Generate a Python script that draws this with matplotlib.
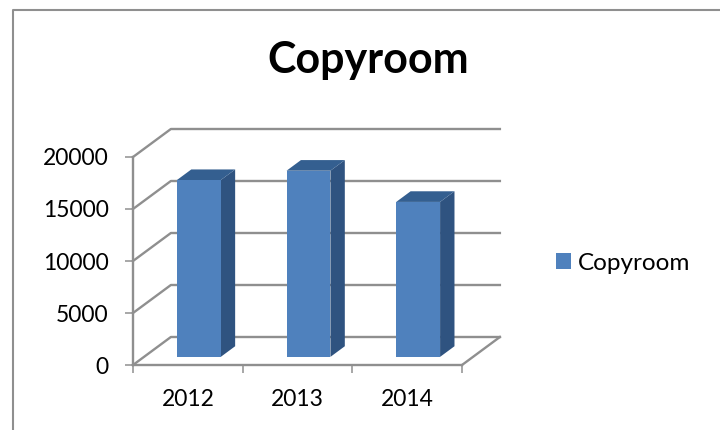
"""Copyroom: 3D-style column chart drawn on a flat axes."""

import matplotlib
matplotlib.use("Agg")
import matplotlib.pyplot as plt

years = ["2012", "2013", "2014"]
copias = [17000, 17900, 14900]
marcas_y = [0, 5000, 10000, 15000, 20000]

GRIS = "#8f8f8f"
FRENTE = "#4f81bd"
LADO = "#2f5380"
TECHO = "#345f90"

# depth of the floor, in axis units
FONDO_X = 38 / 110
FONDO_Y = 28 / 208 * 20000


def proyecta(x, y, d):
    """Moves a point of the front plane back to depth d (0 to 1)."""
    return x + d * FONDO_X, y + d * FONDO_Y


def cara(ax, puntos, color, **kwargs):
    xs, ys = zip(*[proyecta(*p) for p in puntos])
    return ax.fill(xs, ys, color=color, lw=0, clip_on=False, **kwargs)[0]


plt.rcParams["font.family"] = ["Lato", "DejaVu Sans"]

fig = plt.figure(figsize=(7.2, 4.3), dpi=100)
ax = fig.add_axes([133 / 720, 1 - 365 / 430, 329 / 720, 208 / 430])
ax.set_xlim(0, len(years))
ax.set_ylim(0, 20000)

# walls and floor
for v in marcas_y:
    xs, ys = zip(proyecta(0, v, 0), proyecta(0, v, 1), proyecta(3, v, 1))
    ax.plot(xs, ys, color=GRIS, lw=1.7, clip_on=False, zorder=1)
xs, ys = zip(proyecta(3, 0, 1), proyecta(3, 0, 0))
ax.plot(xs, ys, color=GRIS, lw=1.7, clip_on=False, zorder=1)

# columns
d1, d2 = 0.29, 0.67
ancho = 0.4
barra = None
for i, valor in enumerate(copias):
    x1 = i + 0.5 - ancho / 2
    x2 = i + 0.5 + ancho / 2
    cara(ax, [(x2, 0, d1), (x2, 0, d2), (x2, valor, d2), (x2, valor, d1)], LADO, zorder=3)
    cara(ax, [(x1, valor, d1), (x2, valor, d1), (x2, valor, d2), (x1, valor, d2)], TECHO, zorder=3)
    barra = cara(ax, [(x1, 0, d1), (x2, 0, d1), (x2, valor, d1), (x1, valor, d1)], FRENTE, zorder=4)
barra.set_label("Copyroom")

for s in ["top", "right"]:
    ax.spines[s].set_visible(False)
for s in ["left", "bottom"]:
    ax.spines[s].set_color(GRIS)
    ax.spines[s].set_linewidth(1.7)

ax.set_yticks(marcas_y)
ax.set_xticks(range(len(years) + 1))
ax.set_xticklabels([])
ax.set_xticks([i + 0.5 for i in range(len(years))], labels=years, minor=True)
ax.tick_params(axis="both", which="major", color=GRIS, width=1.1, length=5.5, labelsize=16.5, pad=12)
ax.tick_params(axis="x", which="minor", length=0, labelsize=16.5, pad=17)

ax.legend(handles=[barra], loc="center left", bbox_to_anchor=(556 / 720, 1 - 263 / 430),
          bbox_transform=fig.transFigure, frameon=False, fontsize=17.5,
          handlelength=0.62, handleheight=0.62, handletextpad=0.28, borderpad=0, borderaxespad=0)

fig.text(368.5 / 720, 1 - 60 / 430, "Copyroom", ha="center", va="center", fontsize=31, fontweight="bold")

# chart frame, only the top and left edges fall inside the picture
fig.add_artist(plt.Line2D([13 / 720, 13 / 720, 1], [0, 1 - 10 / 430, 1 - 10 / 430],
                          color=GRIS, lw=1.5))

fig.savefig("out.png", dpi=100)
